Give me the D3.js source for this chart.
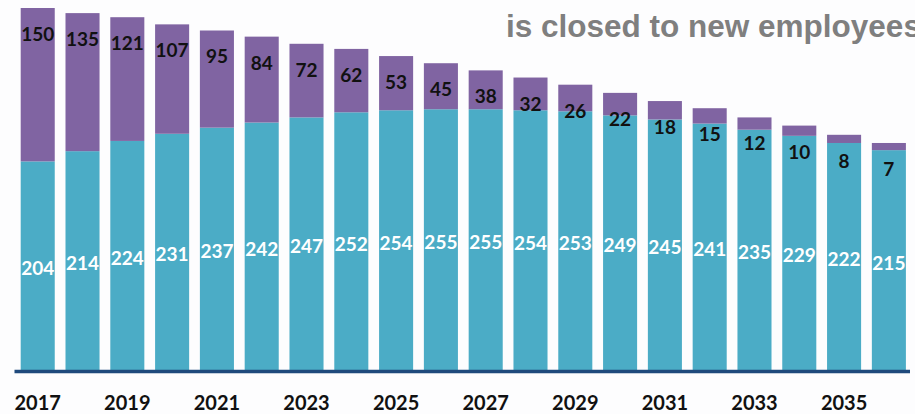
<!DOCTYPE html>
<html>
<head>
<meta charset="utf-8">
<script src="https://cdn.jsdelivr.net/npm/d3@7"></script>
<style>
  html, body { margin: 0; padding: 0; background: #fdfdfe; }
  svg { display: block; }
</style>
</head>
<body>
<svg id="chart" width="915" height="414"></svg>
<script>
const years = [2017, 2018, 2019, 2020, 2021, 2022, 2023, 2024, 2025, 2026,
               2027, 2028, 2029, 2030, 2031, 2032, 2033, 2034, 2035, 2036];
const lowerValues = [204, 214, 224, 231, 237, 242, 247, 252, 254, 255,
                     255, 254, 253, 249, 245, 241, 235, 229, 222, 215];
const upperValues = [150, 135, 121, 107, 95, 84, 72, 62, 53, 45,
                     38, 32, 26, 22, 18, 15, 12, 10, 8, 7];
const tickYears = [2017, 2019, 2021, 2023, 2025, 2027, 2029, 2031, 2033, 2035];
const titleText = "is closed to new employees";

const colLower = "#4bacc6";
const colUpper = "#8064a2";

const svg = d3.select("#chart");
const W = 915, H = 414;
svg.append("rect").attr("width", W).attr("height", H).attr("fill", "#fdfdfe");

const data = years.map((yr, i) => ({
  year: yr, lower: lowerValues[i], upper: upperValues[i],
  total: lowerValues[i] + upperValues[i]
}));

const x = d3.scaleBand().domain(years).range([20.7, 905.9])
  .paddingInner(0.24).paddingOuter(0);
const y = d3.scaleLinear().domain([0, d3.max(data, d => d.total)]).range([370, 8]);

// lower (teal) bars
svg.append("g").selectAll("rect").data(data).join("rect")
  .attr("x", d => x(d.year))
  .attr("width", x.bandwidth())
  .attr("y", d => y(d.lower))
  .attr("height", d => y(0) - y(d.lower))
  .attr("fill", colLower);

// upper (purple) bars
svg.append("g").selectAll("rect").data(data).join("rect")
  .attr("x", d => x(d.year))
  .attr("width", x.bandwidth())
  .attr("y", d => y(d.total))
  .attr("height", d => y(d.lower) - y(d.total))
  .attr("fill", colUpper);

const labelFont = "Lato, 'Open Sans', sans-serif";

// lower labels (white)
svg.append("g").selectAll("text").data(data).join("text")
  .attr("x", d => x(d.year) + x.bandwidth() / 2)
  .attr("y", d => (y(d.lower) + y(0)) / 2 + 9.5)
  .attr("text-anchor", "middle")
  .attr("font-family", labelFont)
  .attr("font-weight", 700)
  .attr("font-size", 19)
  .attr("fill", "#ffffff")
  .text(d => d.lower);

// upper labels (black)
svg.append("g").selectAll("text").data(data).join("text")
  .attr("x", d => x(d.year) + x.bandwidth() / 2)
  .attr("y", d => y(d.total) + 33)
  .attr("text-anchor", "middle")
  .attr("font-family", labelFont)
  .attr("font-weight", 700)
  .attr("font-size", 19)
  .attr("fill", "#111111")
  .text(d => d.upper);

// x axis
const xAxis = d3.axisBottom(x).tickValues(tickYears).tickSize(0).tickPadding(0);
const gx = svg.append("g").attr("transform", "translate(0,0)").call(xAxis);
gx.select(".domain").remove();
gx.selectAll("text")
  .attr("y", 410)
  .attr("dy", null)
  .attr("font-family", labelFont)
  .attr("font-weight", 700)
  .attr("font-size", 20)
  .attr("fill", "#111111");

svg.append("line")
  .attr("x1", 14.5).attr("x2", 910)
  .attr("y1", 371.5).attr("y2", 371.5)
  .attr("stroke", "#1f4a7c").attr("stroke-width", 3.5);

// title fragment
svg.append("text")
  .attr("x", 506).attr("y", 36.5)
  .attr("font-family", "'Liberation Sans', Arial, sans-serif")
  .attr("font-weight", 700)
  .attr("font-size", 31.5)
  .attr("fill", "#7f7f7f")
  .text(titleText);
</script>
</body>
</html>
